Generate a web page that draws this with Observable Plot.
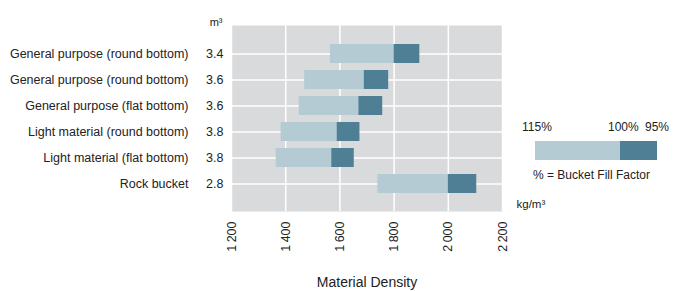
<!DOCTYPE html>
<html>
<head>
<meta charset="utf-8">
<script src="https://cdn.jsdelivr.net/npm/d3@7"></script>
<script src="https://cdn.jsdelivr.net/npm/@observablehq/plot@0.6"></script>
<style>
  html, body { margin: 0; padding: 0; background: #fff; }
  #wrap { position: relative; width: 675px; height: 291px; font-family: "Liberation Sans", Arial, sans-serif; color: #222; }
  #wrap svg { position: absolute; left: 0; top: 0; }
  .lg { position: absolute; font-size: 12px; white-space: nowrap; }
</style>
</head>
<body>
<div id="wrap"></div>
<script>
// Bucket types (rows, top to bottom)
const bucketNames = [
  "General purpose (round bottom)",
  "General purpose (round bottom)",
  "General purpose (flat bottom)",
  "Light material (round bottom)",
  "Light material (flat bottom)",
  "Rock bucket"
];
// Bucket capacity, m³
const capacities = ["3.4", "3.6", "3.6", "3.8", "3.8", "2.8"];
// Material density (kg/m³) at 115%, 100% and 95% bucket fill factor
const density115 = [1565, 1470, 1450, 1383, 1365, 1740];
const density100 = [1800, 1690, 1670, 1590, 1570, 2000];
const density95  = [1895, 1780, 1758, 1674, 1653, 2105];
// X axis ticks
const xTicks = [1200, 1400, 1600, 1800, 2000, 2200];

const lightColor = "#b5cbd4";
const darkColor = "#4f7f95";
const bgColor = "#d9dadc";

const rows = bucketNames.map((name, i) => ({
  i, name, cap: capacities[i],
  d115: density115[i], d100: density100[i], d95: density95[i]
}));

const fmt = v => d3.format(",")(v).replace(/,/g, "\u2009");

const chart = Plot.plot({
  width: 675,
  height: 291,
  marginLeft: 231,
  marginRight: 173,
  marginTop: 25,
  marginBottom: 80,
  style: { fontFamily: "Liberation Sans, Arial, sans-serif", fontSize: "12px", color: "#222", background: "transparent" },
  x: { domain: [1200, 2200] },
  y: { domain: rows.map(d => d.i), paddingInner: 0.28, paddingOuter: 0.65 },
  marks: [
    Plot.frame({ fill: bgColor, stroke: null }),
    Plot.gridX(xTicks, { stroke: "#fff", strokeOpacity: 1, strokeWidth: 1.5 }),
    Plot.gridY({ stroke: "#fff", strokeOpacity: 1, strokeWidth: 1.5 }),
    Plot.barX(rows, { y: "i", x1: "d115", x2: "d100", fill: lightColor }),
    Plot.barX(rows, { y: "i", x1: "d100", x2: "d95", fill: darkColor }),
    Plot.axisY({ tickFormat: i => capacities[i], tickSize: 0, tickPadding: 8, label: null, fontSize: 12.5 }),
    Plot.text(rows, { y: "i", text: "name", frameAnchor: "left", textAnchor: "end", dx: -43, fontSize: 12.5, fill: "#222" }),
    Plot.axisX({ ticks: xTicks, tickFormat: fmt, tickSize: 0, tickPadding: 10, tickRotate: -90, label: null, fontSize: 12.5 }),
    Plot.text(["m³"], { frameAnchor: "top-left", textAnchor: "end", dx: -9, dy: -7, fontSize: 11, fill: "#222" }),
    Plot.text(["kg/m³"], { frameAnchor: "bottom-right", textAnchor: "start", dx: 14, dy: -4, fontSize: 11.5, fill: "#222" }),
    Plot.text(["Material Density"], { frameAnchor: "bottom", dy: 75, fontSize: 14, fill: "#222" })
  ]
});

const wrap = document.getElementById("wrap");
wrap.appendChild(chart);

// Legend
function addDiv(style, text, cls) {
  const el = document.createElement("div");
  if (cls) el.className = cls;
  Object.assign(el.style, style);
  if (text) el.textContent = text;
  wrap.appendChild(el);
  return el;
}
addDiv({ position: "absolute", left: "535px", top: "141px", width: "85px", height: "19px", background: lightColor });
addDiv({ position: "absolute", left: "620px", top: "141px", width: "37px", height: "19px", background: darkColor });
addDiv({ left: "522px", top: "120px" }, "115%", "lg");
addDiv({ left: "608px", top: "120px" }, "100%", "lg");
addDiv({ left: "645px", top: "120px" }, "95%", "lg");
addDiv({ left: "533px", top: "168px" }, "% = Bucket Fill Factor", "lg");
</script>
</body>
</html>
